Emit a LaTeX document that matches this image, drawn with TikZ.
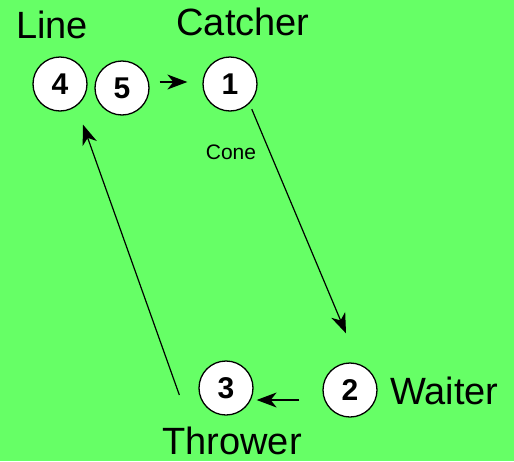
\documentclass[tikz,border=0pt]{standalone}
\usepackage{fontspec}
\setmainfont{Liberation Sans}
\usetikzlibrary{arrows.meta}
\definecolor{bggreen}{RGB}{102,255,102}
\tikzset{
  player/.style={circle,draw=black,fill=white,line width=1.3pt,minimum size=54pt,inner sep=0pt,font=\fontsize{30}{30}\selectfont\bfseries},
  role/.style={anchor=base,inner sep=0pt,font=\fontsize{38}{40}\selectfont},
  small/.style={anchor=base,inner sep=0pt,font=\fontsize{21}{24}\selectfont},
  pass/.style={line width=1.2pt,-{Stealth[length=20pt,width=15pt,inset=6pt]}}
}
\begin{document}
\begin{tikzpicture}[x=1pt,y=-1pt]
\fill[bggreen] (0,0) rectangle (514,461);
\useasboundingbox (0,0) rectangle (514,461);
\node[player] (n4) at (60,84) {4};
\node[player] (n5) at (122,88) {5};
\node[player] (n1) at (230,84) {1};
\node[player] (n3) at (226,388) {3};
\node[player] (n2) at (350,390) {2};
\node[role] (lline) at (52,38) {Line};
\node[role] (lcatch) at (243,35) {Catcher};
\node[role,anchor=base west] (lwait) at (390,404) {Waiter};
\node[role] (lthrow) at (232,454) {Thrower};
\node[small] (lcone) at (231,159) {Cone};
\draw[pass] ([shift={(10,-6)}]n5.east) -- ([shift={(-15,-2)}]n1.west);
\draw[pass] ([shift={(4,4)}]n1.-50) -- ([shift={(-4,-29)}]n2.north);
\draw[pass] ([shift={(-23,10)}]n2.west) -- ([shift={(3,12)}]n3.east);
\draw[pass] ([shift={(-19,7)}]n3.west) -- ([shift={(23,13)}]n4.south);
\end{tikzpicture}
\end{document}
